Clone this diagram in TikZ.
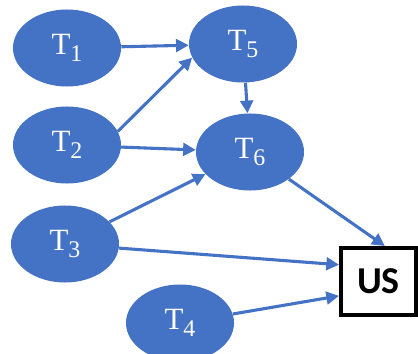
\documentclass[tikz,border=0pt]{standalone}
\usepackage{fontspec}
\setmainfont{Liberation Serif}
\newfontfamily\boxfont{Carlito}
\usetikzlibrary{arrows.meta,shapes.geometric}
\definecolor{tblue}{HTML}{4472C4}
\newcommand{\tlab}[1]{T\raisebox{-0.25em}{\fontsize{17}{18}\selectfont #1}}
\begin{document}
\begin{tikzpicture}[x=0.025cm, y=-0.025cm,
    tnode/.style={ellipse, fill=tblue, minimum width=2.7cm, minimum height=1.925cm, inner sep=0pt,
      text=white, font=\fontsize{22}{23}\selectfont},
    usbox/.style={draw=black, line width=0.1cm, fill=white, minimum width=1.875cm, minimum height=1.675cm,
      inner sep=0pt, font=\boxfont\bfseries\fontsize{27}{28}\selectfont},
    link/.style={draw=tblue, line width=2.2pt, -{Triangle[length=9pt,width=9pt]}}]
    \useasboundingbox (0,0) rectangle (418,353);
    \clip (0,0) rectangle (418,353);
    \node[tnode] (T1) at (67,48) {\tlab{1}};
    \node[tnode] (T2) at (67,145) {\tlab{2}};
    \node[tnode] (T3) at (65,244) {\tlab{3}};
    \node[tnode] (T4) at (180,323) {\tlab{4}};
    \node[tnode] (T5) at (243,44) {\tlab{5}};
    \node[tnode] (T6) at (250,152) {\tlab{6}};
    \node[usbox] (US) at (378.5,281.5) {US};
    % arrows
    \draw[link] (T1) -- (T5);
    \draw[link] (T2.15) -- (T5.195);
    \draw[link] (T2) -- (T6);
    \draw[link] (T5) -- (T6);
    \draw[link] (T3) -- (T6);
    \draw[link] (T6) -- (US.80);
    \draw[link] (T3) -- (US.157);
    \draw[link] (T4) -- (US.200);
\end{tikzpicture}
\end{document}
